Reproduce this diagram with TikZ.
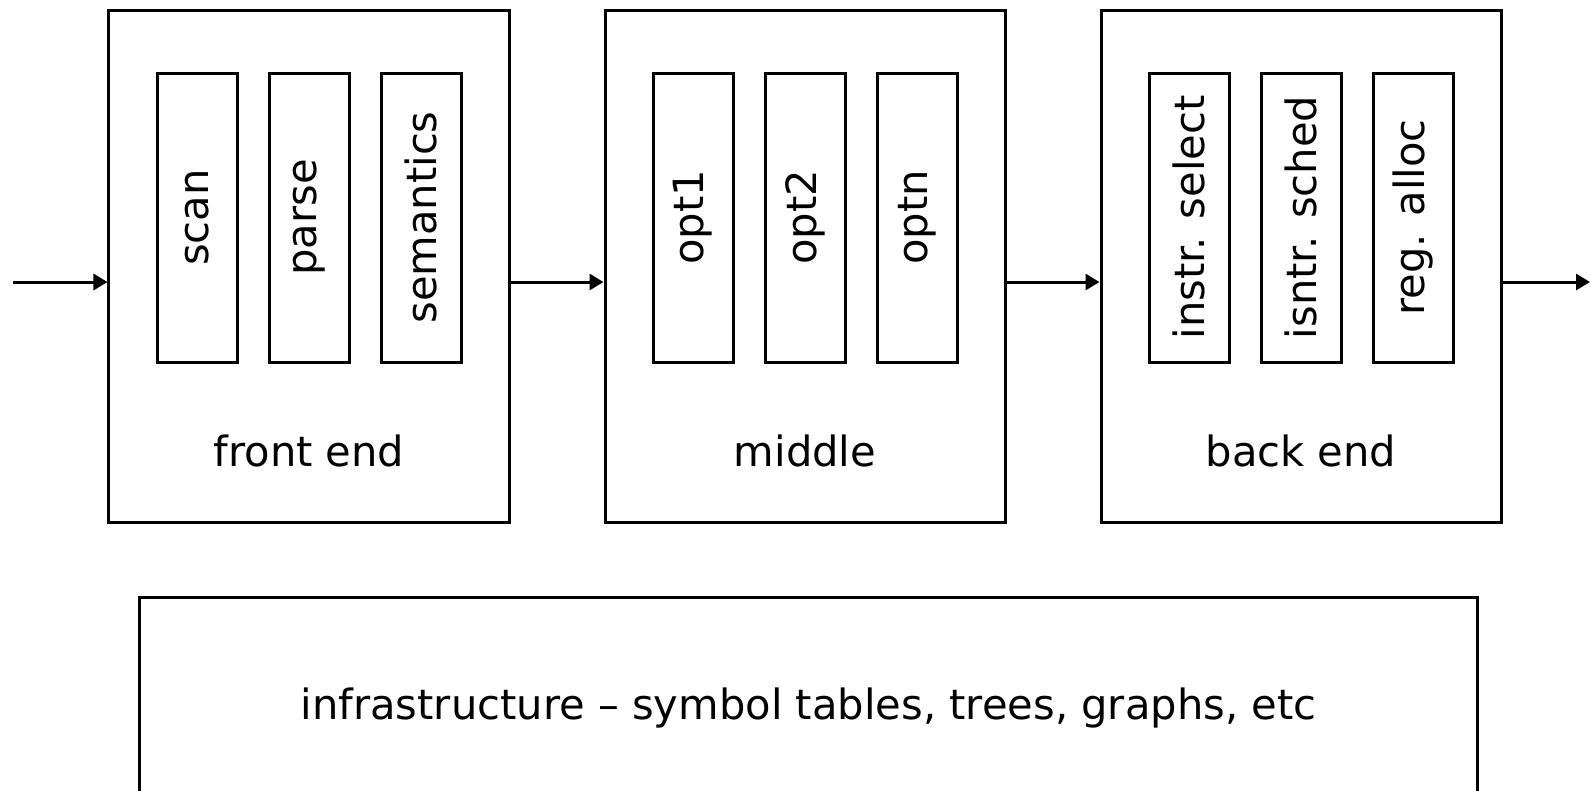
\documentclass[tikz,border=0pt]{standalone}
\usepackage{fontspec}
\setmainfont{DejaVu Sans}
\usetikzlibrary{arrows.meta}

\tikzset{
  stage/.style = {draw, line width=0.6mm, minimum width=80mm, minimum height=102.4mm, inner sep=0pt},
  pass/.style  = {draw, line width=0.6mm, rotate=90, minimum width=57.8mm, minimum height=16mm, inner sep=0pt},
  infra/.style = {draw, line width=0.6mm, minimum width=267.4mm, minimum height=44mm, inner sep=0pt},
  flow/.style  = {line width=0.6mm, -{Triangle[length=2.8mm, width=3.2mm]}},
}

\begin{document}
\begin{tikzpicture}[x=0.2mm, y=-0.2mm, font=\fontsize{23.7}{28}\selectfont]
    \useasboundingbox (0,0) rectangle (1590,790);
    \clip (0,0) rectangle (1590,790);

    % Stages
    \foreach \n/\x/\t in {fe/309/front end, mid/805/middle, be/1301/back end} {
        \node[stage] (\n) at (\x,266) {};
        \node (\n-name) at (\x,451) {\t};
    }

    % Passes
    \foreach \n/\x/\t in {scan/197/scan, parse/309/parse, sem/421/semantics,
                          opta/693/opt1, optb/805/opt2, optn/917/optn,
                          isel/1189/instr. select, isch/1301/isntr. sched, ralloc/1413/reg. alloc}
        \node[pass] (\n) at (\x,217.5) {\t};

    % Infrastructure
    \node[infra] (infra) at (808.5,707.5) {infrastructure – symbol tables, trees, graphs, etc};

    % Edges
    \coordinate (source) at (13,282);
    \coordinate (sink) at (1590,282);
    \draw[flow] (source) -- (fe.west |- source);
    \draw[flow] (fe.east |- source) -- (mid.west |- source);
    \draw[flow] (mid.east |- source) -- (be.west |- source);
    \draw[flow] (be.east |- source) -- (sink);
\end{tikzpicture}
\end{document}
